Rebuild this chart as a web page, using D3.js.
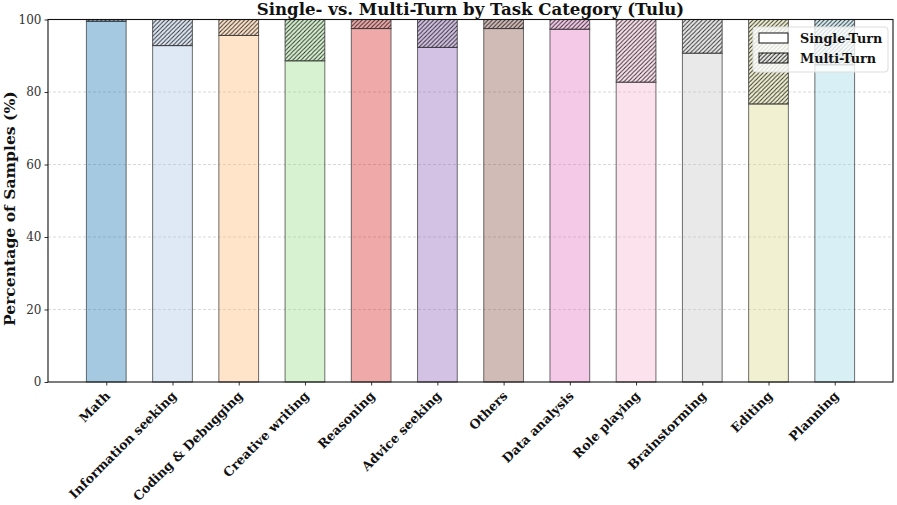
<!DOCTYPE html>
<html><head><meta charset="utf-8">
<script src="https://cdn.jsdelivr.net/npm/d3@7"></script>
<style>body{margin:0;background:#fff}svg{display:block}text{font-family:"DejaVu Serif",serif}</style>
</head><body><svg id="c" width="897" height="505"></svg>
<script>
const categories = ["Math","Information seeking","Coding & Debugging","Creative writing","Reasoning","Advice seeking","Others","Data analysis","Role playing","Brainstorming","Editing","Planning"];
const singleTurn = [99.5, 92.8, 95.6, 88.6, 97.5, 92.3, 97.5, 97.3, 82.7, 90.7, 76.7, 87.5];
const multiTurn = singleTurn.map(v => 100 - v);
const baseColors = ["#1f77b4","#aec7e8","#ffbb78","#98df8a","#d62728","#9467bd","#8c564b","#e377c2","#f7b6d2","#c7c7c7","#dbdb8d","#9edae5"];
const yTicks = [0,20,40,60,80,100];

const svg = d3.select("#c");
const m = {l:48, r:4, t:19.5, b:123};
const W = 897, H = 505;
const x0 = m.l, x1 = W - m.r, y0 = H - m.b, y1 = m.t;

const x = d3.scaleLinear().domain([-0.88, 11.88]).range([x0, x1]);
const y = d3.scaleLinear().domain([0,100]).range([y0, y1]);
const bw = x(0.6) - x(0);

const defs = svg.append("defs");
const pat = defs.append("pattern").attr("id","hatch").attr("patternUnits","userSpaceOnUse")
  .attr("width",4.2).attr("height",4.2);
pat.append("path").attr("d","M-1,1 l2,-2 M0,4.2 l4.2,-4.2 M3.2,5.2 l2,-2")
  .attr("stroke","#111").attr("stroke-width",1);

// grid
svg.append("g").selectAll("line").data(yTicks.filter(d=>d>0&&d<100)).join("line")
  .attr("x1",x0).attr("x2",x1).attr("y1",d=>y(d)).attr("y2",d=>y(d))
  .attr("stroke","#cfcfcf").attr("stroke-width",0.8).attr("stroke-dasharray","3,2");

const bars = svg.append("g");
categories.forEach((c,i)=>{
  const col = baseColors[i];
  const bx = x(i) - bw/2;
  bars.append("rect").attr("x",bx).attr("y",y(singleTurn[i])).attr("width",bw)
    .attr("height",y(0)-y(singleTurn[i])).attr("fill",col).attr("fill-opacity",0.4)
    .attr("stroke","#333").attr("stroke-opacity",0.7).attr("stroke-width",1);
  bars.append("rect").attr("x",bx).attr("y",y(100)).attr("width",bw)
    .attr("height",y(100-multiTurn[i])-y(100)).attr("fill",col).attr("fill-opacity",0.4);
  bars.append("rect").attr("x",bx).attr("y",y(100)).attr("width",bw)
    .attr("height",y(100-multiTurn[i])-y(100)).attr("fill","url(#hatch)").attr("fill-opacity",0.85)
    .attr("stroke","#333").attr("stroke-opacity",0.8).attr("stroke-width",1);
});

// axes
const yAxis = svg.append("g").attr("transform",`translate(${x0},0)`)
  .call(d3.axisLeft(y).tickValues(yTicks).tickSize(3.5).tickPadding(3));
yAxis.select(".domain").remove();
yAxis.selectAll("text").attr("font-size",12).attr("fill","#333").attr("font-family","Liberation Serif");
yAxis.selectAll("line").attr("stroke","#333");

const xAxis = svg.append("g").attr("transform",`translate(0,${y0})`)
  .call(d3.axisBottom(x).tickValues(d3.range(categories.length)).tickSize(3.5).tickFormat(""));
xAxis.select(".domain").remove();
xAxis.selectAll("line").attr("stroke","#333");

svg.append("g").selectAll("text").data(categories).join("text")
  .attr("transform",(d,i)=>`translate(${x(i)-2},${y0+8}) rotate(-45)`)
  .attr("text-anchor","end").attr("dy","0.75em")
  .attr("font-size",12.7).attr("font-weight","bold").attr("fill","#111").text(d=>d);

svg.append("rect").attr("x",x0).attr("y",y1).attr("width",x1-x0).attr("height",y0-y1)
  .attr("fill","none").attr("stroke","#111").attr("stroke-width",1.1);

svg.append("text").attr("x",(x0+x1)/2).attr("y",15).attr("text-anchor","middle")
  .attr("font-size",16.6).attr("font-weight","bold").attr("fill","#111")
  .text("Single- vs. Multi-Turn by Task Category (Tulu)");

svg.append("text").attr("transform",`translate(15,${(y0+y1)/2 + 8}) rotate(-90)`)
  .attr("text-anchor","middle").attr("font-size",15.6).attr("font-weight","bold").attr("fill","#111")
  .text("Percentage of Samples (%)");

// legend
const lg = svg.append("g").attr("transform","translate(753,27)");
lg.append("rect").attr("width",135).attr("height",45).attr("rx",3)
  .attr("fill","#fff").attr("fill-opacity",0.8).attr("stroke","#ddd");
const items = [{label:"Single-Turn",h:false},{label:"Multi-Turn",h:true}];
items.forEach((it,k)=>{
  const g = lg.append("g").attr("transform",`translate(6,${6+k*20})`);
  g.append("rect").attr("width",29).attr("height",10).attr("fill",it.h?"url(#hatch)":"#fff")
    .attr("stroke","#111").attr("stroke-width",1);
  g.append("text").attr("x",41).attr("y",10).attr("font-size",12.8).attr("font-weight","bold")
    .attr("fill","#111").text(it.label);
});
</script></body></html>
